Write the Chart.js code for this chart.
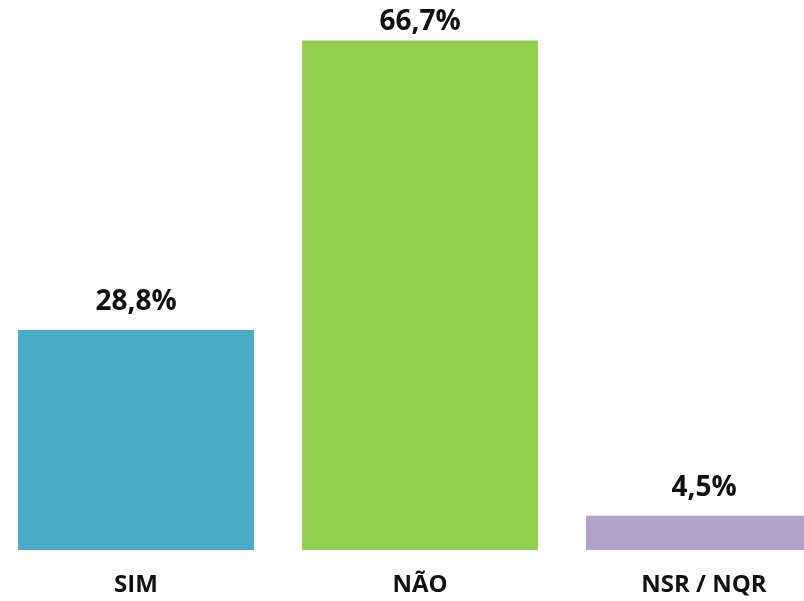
<!DOCTYPE html>
<html>
<head>
<meta charset="utf-8">
<script src="https://cdn.jsdelivr.net/npm/chart.js@4/dist/chart.umd.min.js"></script>
<style>
  html, body { margin: 0; padding: 0; background: #fff; overflow: hidden; width: 804px; height: 601px; }
  #wrap { position: absolute; left: -6px; top: 0; width: 852px; height: 601px; }
</style>
</head>
<body>
<div id="wrap"><canvas id="c"></canvas></div>
<script>
const categories = ['SIM', 'NÃO', 'NSR / NQR'];
const values = [28.8, 66.7, 4.5];
const barColors = ['#4BACC6', '#92D050', '#B2A2C7'];
const axisMax = 72;

const fmt = v => v.toFixed(1).replace('.', ',') + '%';

// Bold percentage labels above each bar
const valueLabels = {
  id: 'valueLabels',
  afterDatasetsDraw(chart) {
    const ctx = chart.ctx;
    const meta = chart.getDatasetMeta(0);
    ctx.save();
    ctx.font = 'bold 28px "Open Sans"';
    ctx.fillStyle = '#111';
    ctx.textAlign = 'center';
    ctx.textBaseline = 'alphabetic';
    meta.data.forEach((bar, i) => {
      const y = Math.max(bar.y - 20, 30);
      ctx.fillText(fmt(values[i]), bar.x, y);
    });
    ctx.restore();
  }
};

new Chart(document.getElementById('c'), {
  type: 'bar',
  data: {
    labels: categories,
    datasets: [{
      data: values,
      backgroundColor: barColors,
      borderWidth: 0,
      barPercentage: 0.831,
      categoryPercentage: 1
    }]
  },
  options: {
    responsive: true,
    maintainAspectRatio: false,
    animation: false,
    layout: { padding: 0 },
    plugins: { legend: { display: false }, tooltip: { enabled: false } },
    scales: {
      x: {
        grid: { display: false, drawTicks: false },
        border: { display: false },
        ticks: {
          color: '#111',
          font: { family: '"Open Sans"', size: 24, weight: 'bold' },
          padding: 21,
          maxRotation: 0
        },
        afterFit(scale) { scale.height = 51; }
      },
      y: {
        display: false,
        min: 0,
        max: axisMax
      }
    }
  },
  plugins: [valueLabels]
});
</script>
</body>
</html>
